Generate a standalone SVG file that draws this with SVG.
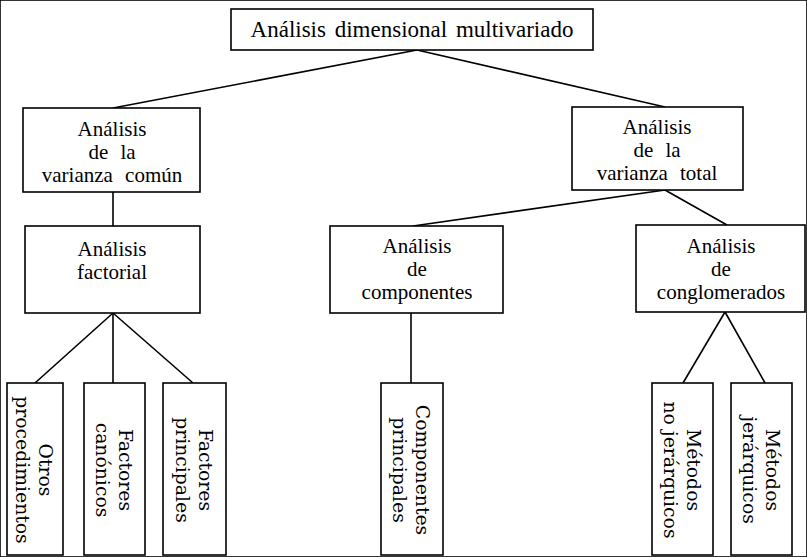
<svg xmlns="http://www.w3.org/2000/svg" width="807" height="557" viewBox="0 0 807 557">
<style>
rect{fill:#fff;stroke:#000;stroke-width:1.6}
line{stroke:#000;stroke-width:1.6}
.t{font-family:"Liberation Serif","Times New Roman",serif;font-size:21px;text-anchor:middle;word-spacing:7px;fill:#000}
.h{font-family:"Liberation Serif","Times New Roman",serif;font-size:23px;text-anchor:middle;word-spacing:3px;fill:#000}
.v{font-family:"DejaVu Serif",serif;font-size:18.8px;text-anchor:middle;fill:#000}
</style>
<rect width="807" height="557" fill="#fff" stroke="none"/>
<g id="connectors">
<line x1="417" y1="50" x2="113" y2="108"/>
<line x1="417" y1="50" x2="665" y2="107"/>
<line x1="113" y1="192" x2="113" y2="226"/>
<line x1="113" y1="313" x2="35" y2="383"/>
<line x1="113" y1="313" x2="113" y2="383"/>
<line x1="113" y1="313" x2="193" y2="383"/>
<line x1="665" y1="190" x2="413" y2="226"/>
<line x1="665" y1="190" x2="727" y2="225"/>
<line x1="411" y1="313" x2="411" y2="383"/>
<line x1="725" y1="312" x2="683" y2="383"/>
<line x1="725" y1="312" x2="765" y2="383"/>
</g>
<g id="root">
<rect x="231" y="9" width="362" height="41"/>
<text class="h" x="412" y="37">Análisis dimensional multivariado</text>
</g>
<g id="comun">
<rect x="23" y="108" width="177" height="84"/>
<text class="t" x="112" y="136">Análisis</text>
<text class="t" x="112" y="159">de la</text>
<text class="t" x="112" y="182">varianza común</text>
</g>
<g id="total">
<rect x="572" y="107" width="171" height="83"/>
<text class="t" x="657" y="134">Análisis</text>
<text class="t" x="657" y="157">de la</text>
<text class="t" x="657" y="180">varianza total</text>
</g>
<g id="factorial">
<rect x="25" y="226" width="175" height="87"/>
<text class="t" x="112" y="256">Análisis</text>
<text class="t" x="112" y="279">factorial</text>
</g>
<g id="componentes">
<rect x="330" y="226" width="173" height="87"/>
<text class="t" x="417" y="253">Análisis</text>
<text class="t" x="417" y="276">de</text>
<text class="t" x="417" y="299">componentes</text>
</g>
<g id="conglomerados">
<rect x="636" y="225" width="169" height="87"/>
<text class="t" x="721" y="253">Análisis</text>
<text class="t" x="721" y="276">de</text>
<text class="t" x="721" y="299">conglomerados</text>
</g>
<g id="otros">
<rect x="7" y="383" width="56" height="172"/>
<g transform="translate(35,470) rotate(90)">
<text class="v" x="0" y="-4">Otros</text>
<text class="v" x="0" y="19">procedimientos</text>
</g>
</g>
<g id="canonicos">
<rect x="84" y="383" width="61" height="172"/>
<g transform="translate(114.5,470) rotate(90)">
<text class="v" x="0" y="-4">Factores</text>
<text class="v" x="0" y="19">canónicos</text>
</g>
</g>
<g id="fprincipales">
<rect x="163" y="383" width="63" height="172"/>
<g transform="translate(194.5,470) rotate(90)">
<text class="v" x="0" y="-4">Factores</text>
<text class="v" x="0" y="19">principales</text>
</g>
</g>
<g id="cprincipales">
<rect x="381" y="383" width="62" height="172"/>
<g transform="translate(412,470) rotate(90)">
<text class="v" x="0" y="-4">Componentes</text>
<text class="v" x="0" y="19">principales</text>
</g>
</g>
<g id="nojerarquicos">
<rect x="652" y="383" width="61" height="172"/>
<g transform="translate(682.5,470) rotate(90)">
<text class="v" x="0" y="-4">Métodos</text>
<text class="v" x="0" y="19">no jerárquicos</text>
</g>
</g>
<g id="jerarquicos">
<rect x="731" y="383" width="61" height="172"/>
<g transform="translate(761.5,470) rotate(90)">
<text class="v" x="0" y="-4">Métodos</text>
<text class="v" x="0" y="19">jerárquicos</text>
</g>
</g>
</svg>
